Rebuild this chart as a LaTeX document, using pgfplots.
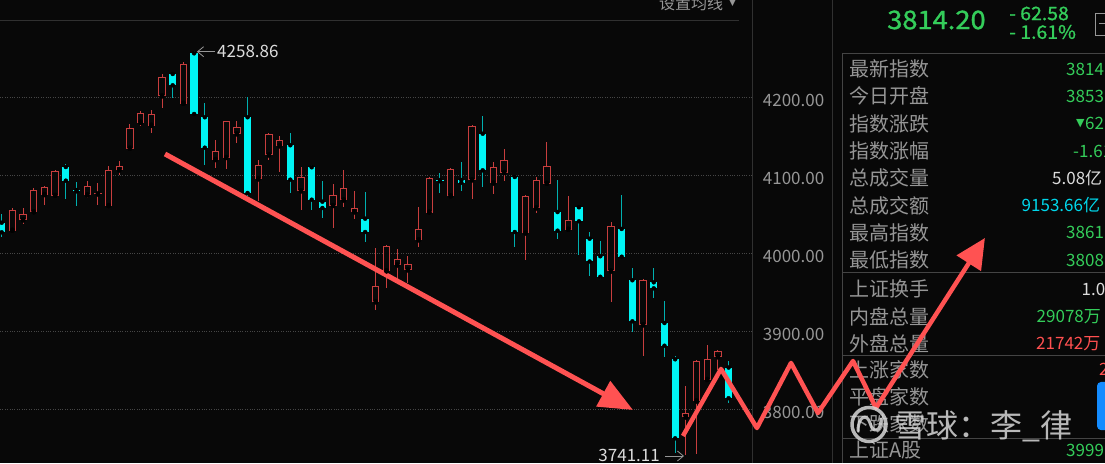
\documentclass[border=0pt]{standalone}
\usepackage{pgfplots}
\pgfplotsset{compat=1.18}
\usepackage{pgfplotstable}
\usepackage{fontspec}
\setmainfont{Noto Sans CJK SC}
\newfontfamily\hdrfont{Noto Sans CJK SC}[AutoFakeBold=1.2]
\newfontfamily\symfont{DejaVu Sans}
\usetikzlibrary{arrows.meta}
\definecolor{bg}{RGB}{8,8,8}
\definecolor{upred}{RGB}{200,62,62}
\definecolor{dncyan}{RGB}{0,245,245}
\definecolor{dnwick}{RGB}{0,175,175}
\definecolor{gridc}{RGB}{70,70,70}
\definecolor{sepa}{RGB}{48,48,48}
\definecolor{sepb}{RGB}{68,68,68}
\definecolor{lblc}{RGB}{150,150,150}
\definecolor{grn}{RGB}{52,205,90}
\definecolor{txtred}{RGB}{255,80,80}
\definecolor{txtcyan}{RGB}{0,215,235}
\definecolor{txtw}{RGB}{220,220,220}
\definecolor{annot}{RGB}{255,82,82}
\definecolor{btnblue}{RGB}{20,140,255}
\definecolor{wmark}{RGB}{215,215,215}

% rising days (red, hollow): index, open, high, low, close
\pgfplotstableread{
i O H L C
2 4029.0 4057.7 4028.0 4055.1
3 4042.3 4058.5 4037.9 4050.4
4 4052.6 4083.3 4051.7 4081.2
5 4074.7 4086.7 4062.3 4085.0
6 4073.8 4106.8 4073.0 4105.9
9 4074.4 4092.7 4071.3 4085.9
10 4075.6 4089.7 4062.3 4077.7
11 4060.6 4111.9 4059.5 4106.8
12 4106.4 4118.3 4100.8 4111.9
13 4134.1 4165.8 4130.8 4160.3
14 4167.4 4182.1 4163.6 4179.5
15 4163.6 4183.7 4154.6 4179.0
16 4201.3 4230.3 4186.3 4225.6
18 4191.8 4245.3 4191.0 4242.7
21 4119.6 4145.3 4109.0 4131.2
22 4122.2 4170.2 4108.5 4169.6
23 4152.6 4170.0 4141.0 4161.5
25 4094.9 4119.6 4067.4 4112.8
26 4125.6 4153.9 4119.6 4153.0
27 4137.2 4150.4 4104.6 4145.3
29 4079.5 4110.3 4055.5 4097.4
32 4060.6 4088.8 4032.8 4074.4
33 4067.9 4106.8 4059.7 4083.7
34 4052.6 4080.3 4043.6 4057.7
36 3937.2 4006.4 3927.3 3957.7
37 3976.9 4010.6 3955.1 4009.4
38 3984.6 4005.5 3962.8 3992.3
39 3978.2 3996.9 3961.5 3985.9
40 4016.7 4059.4 4007.7 4030.8
41 4052.3 4097.4 4051.3 4096.2
43 4073.1 4109.4 4072.5 4107.7
45 4093.6 4164.9 4070.0 4162.8
47 4089.7 4117.0 4075.6 4110.3
48 4103.0 4133.3 4092.7 4119.6
50 4025.6 4075.1 3991.8 4073.1
51 4057.7 4097.4 4051.3 4093.6
52 4089.2 4143.1 4087.6 4111.9
54 4030.3 4073.5 4027.3 4042.3
58 3976.7 4039.9 3937.9 4035.4
61 3907.7 3966.7 3868.3 3966.4
65 3789.7 3829.9 3741.11 3794.9
66 3810.2 3863.0 3743.0 3862.3
67 3837.6 3882.8 3837.0 3864.9
68 3866.7 3876.0 3850.4 3875.1
}\upc

% falling days (cyan, filled): index, open, high, low, close
\pgfplotstableread{
i O H L C
1 4039.2 4050.4 4020.5 4026.9
7 4110.6 4114.5 4070.0 4093.1
8 4081.0 4091.8 4060.6 4079.4
17 4229.9 4231.2 4199.5 4215.4
19 4256.4 4258.86 4178.0 4178.6
20 4174.4 4192.3 4113.6 4135.4
24 4174.4 4200.4 4073.5 4077.3
28 4138.5 4153.8 4076.9 4094.4
30 4110.3 4113.2 4055.1 4068.7
31 4066.2 4092.7 4045.6 4058.1
35 4044.4 4078.6 4014.9 4027.3
42 4094.0 4103.3 4077.7 4092.3
44 4094.0 4117.4 4080.2 4090.5
46 4153.3 4175.6 4085.4 4106.4
49 4097.8 4099.1 4007.7 4027.3
53 4052.9 4094.0 4018.3 4029.0
55 4059.0 4059.5 3997.4 4041.0
56 4018.7 4027.7 3971.3 3989.5
57 3996.2 4015.4 3967.4 3969.9
59 4031.2 4074.5 3995.0 3995.6
60 3965.4 3981.5 3899.5 3912.8
62 3962.8 3980.9 3943.1 3955.1
63 3910.6 3938.8 3866.7 3881.5
64 3864.1 3868.3 3744.0 3762.8
69 3853.5 3861.5 3808.5 3814.2
}\dnc

\newcommand{\lbl}[2]{\node[anchor=west, inner sep=0pt, text=lblc, font=\fontsize{20}{20}\selectfont] at (849,#1) {#2};}
\newcommand{\val}[4]{\node[anchor=west, inner sep=0pt, text=#4, font=\fontsize{17}{17}\selectfont] at (#1,#2) {#3};}

\begin{document}
\begin{tikzpicture}
\path[use as bounding box] (0,0) rectangle (1105pt,463pt);
\clip (0,0) rectangle (1105pt,463pt);
\fill[bg] (0,0) rectangle (1105pt,463pt);

\begin{scope}[x=1pt, y=-1pt, yshift=463pt]
  % frame lines
  \draw[sepa, line width=1pt] (0,20.5) -- (739,20.5);
  \draw[sepa, line width=1pt] (752,0) -- (752,463);
  \draw[sepa, line width=1pt] (832,0) -- (832,463);
  \draw[sepb, line width=1pt] (842.5,53.3) -- (842.5,463);
  \draw[sepb, line width=1pt] (842.5,53.3) -- (1105,53.3);
  \draw[sepb, line width=1pt] (842.5,273) -- (1105,273);
  \draw[sepb, line width=1pt] (842.5,356) -- (1105,356);
  \draw[sepb, line width=1pt] (842.5,438) -- (1105,438);
  % top toolbar text
  \node[anchor=west, inner sep=0pt, text=lblc, font=\fontsize{16}{16}\selectfont] at (659,3) {设置均线};
  \node[anchor=west, inner sep=0pt, text=lblc, font=\symfont\fontsize{9}{9}\selectfont] at (729,3) {▼};
  % header
  \node[anchor=west, inner sep=0pt, text=grn, xscale=1.07, font=\hdrfont\bfseries\fontsize{25.5}{25.5}\selectfont] at (887,20) {3814.20};
  \node[anchor=west, inner sep=0pt, text=grn, xscale=1.05, font=\hdrfont\bfseries\fontsize{18.5}{18.5}\selectfont] at (1009,13.5) {- 62.58};
  \node[anchor=west, inner sep=0pt, text=grn, xscale=1.05, font=\hdrfont\bfseries\fontsize{18.5}{18.5}\selectfont] at (1009,32) {- 1.61\%};
  \draw[lblc, line width=1pt] (1095.5,13.5) rectangle (1115,36);
  \draw[lblc, line width=1pt] (1099,24) -- (1105,24);
  % rows
  \lbl{69}{最新指数}   \val{1066}{69}{3814.20}{grn}
  \lbl{96.3}{今日开盘} \val{1066}{96.3}{3853.48}{grn}
  \lbl{123.6}{指数涨跌} \node[anchor=west, inner sep=0pt, text=grn, font=\symfont\fontsize{11}{11}\selectfont] at (1076,124) {▼}; \val{1085}{123.6}{62.58}{grn}
  \lbl{150.9}{指数涨幅} \val{1073}{150.9}{-1.61\%}{grn}
  \lbl{178.2}{总成交量} \val{1052}{178.2}{5.08亿}{txtw}
  \lbl{205.5}{总成交额} \val{1021.5}{205.5}{9153.66亿}{txtcyan}
  \lbl{232.8}{最高指数} \val{1066}{232.8}{3861.63}{grn}
  \lbl{260.1}{最低指数} \val{1066}{260.1}{3808.50}{grn}
  \lbl{289}{上证换手}   \val{1081.5}{289}{1.03\%}{txtw}
  \lbl{316.5}{内盘总量} \val{1036.5}{316.5}{29078万}{grn}
  \lbl{343.5}{外盘总量} \val{1036}{343.5}{21742万}{txtred}
  \lbl{369.5}{上涨家数} \val{1099}{369.5}{2}{txtred}
  \lbl{397}{平盘家数}
  \lbl{424}{下跌家数}   \val{1099}{424}{2}{grn}
  \lbl{450.5}{上证A股}  \val{1066}{450.5}{3999}{grn}
  \fill[btnblue, rounded corners=4pt] (1097,382) rectangle (1120,430);
  % extreme labels
  \node[anchor=west, inner sep=0pt, text=txtw, font=\fontsize{17}{17}\selectfont] at (217,51.7) {4258.86};
  \draw[lblc, line width=0.8pt, -{Straight Barb[length=6pt,width=10pt]}] (215,51.7) -- (197,51.7);
  \node[anchor=east, inner sep=0pt, text=txtw, font=\fontsize{17}{17}\selectfont] at (660,455.5) {3741.11};
  \draw[lblc, line width=0.8pt, -{Straight Barb[length=6pt,width=10pt]}] (665,456) -- (684,456);
\end{scope}

\begin{axis}[
  at={(0pt,0pt)}, anchor=south west, scale only axis,
  width=752pt, height=463pt,
  xmin=0.841, xmax=71.19, ymin=3731.14, ymax=4324.75,
  clip=false,
  axis line style={draw=none},
  xtick=\empty,
  ytick={3800,3900,4000,4100,4200},
  ymajorgrids, grid style={dotted, gridc, line width=0.8pt},
  major tick length=0pt,
  yticklabel pos=right,
  /pgf/number format/assume math mode=true,
  yticklabel={\pgfmathprintnumber[fixed,fixed zerofill,precision=2,1000 sep={}]{\tick}},
  yticklabel style={anchor=west, inner sep=0pt, xshift=10.7pt, yshift=-2.7pt, text=lblc, font=\fontsize{17}{17}\selectfont},
]
% wicks
\addplot[only marks, mark=none, error bars/.cd, y dir=both, y explicit, error mark=none,
  error bar style={upred, line width=1pt}]
  table[x=i, y=O, y error plus expr=\thisrow{H}-\thisrow{O}, y error minus expr=\thisrow{O}-\thisrow{L}] {\upc};
\addplot[only marks, mark=none, error bars/.cd, y dir=both, y explicit, error mark=none,
  error bar style={dnwick, line width=1pt}]
  table[x=i, y=O, y error plus expr=\thisrow{H}-\thisrow{O}, y error minus expr=\thisrow{O}-\thisrow{L}] {\dnc};
% rising bodies: outline then hollow inside
\addplot[only marks, mark=none, error bars/.cd, y dir=plus, y explicit, error mark=none,
  error bar style={upred, line width=7.3pt, line cap=butt}]
  table[x=i, y=O, y error plus expr=\thisrow{C}-\thisrow{O}] {\upc};
\addplot[only marks, mark=none, error bars/.cd, y dir=plus, y explicit, error mark=none,
  error bar style={bg, line width=5.3pt, line cap=butt}]
  table[x=i, y expr=\thisrow{O}+1.3, y error plus expr={max(\thisrow{C}-\thisrow{O}-2.6,0)}] {\upc};
% falling bodies
\addplot[only marks, mark=none, error bars/.cd, y dir=plus, y explicit, error mark=none,
  error bar style={dncyan, line width=7.3pt, line cap=butt}]
  table[x=i, y=C, y error plus expr=\thisrow{O}-\thisrow{C}] {\dnc};
% hand-drawn annotation arrows
\addplot[annot, line width=5pt, -{Triangle[length=34pt,width=28pt]}]
  coordinates {(16.28,4127.3) (60.06,3799.1)};
\addplot[annot, line width=4.5pt, line join=round, -{Triangle[length=30pt,width=28pt]}]
  coordinates {(64.73,3765.8) (68.29,3851.7) (71.65,3776.0) (74.84,3859.4) (77.36,3795.2) (80.64,3861.9) (82.79,3801.7) (92.98,4019.6)};
\end{axis}

\begin{scope}[x=1pt, y=-1pt, yshift=463pt]
  % watermark
  \draw[wmark, opacity=0.85, line width=3.5pt] (869,424.5) circle (17);
  \draw[wmark, opacity=0.85, line width=3pt, line cap=round] (858,431) .. controls (858,416) and (867,413) .. (870,423) .. controls (873,434) and (881,432) .. (881,419);
  \node[anchor=west, inner sep=0pt, text=wmark, text opacity=0.85, font=\fontsize{32}{32}\selectfont] at (894,426) {雪球：李\_律};
\end{scope}
\end{tikzpicture}
\end{document}
